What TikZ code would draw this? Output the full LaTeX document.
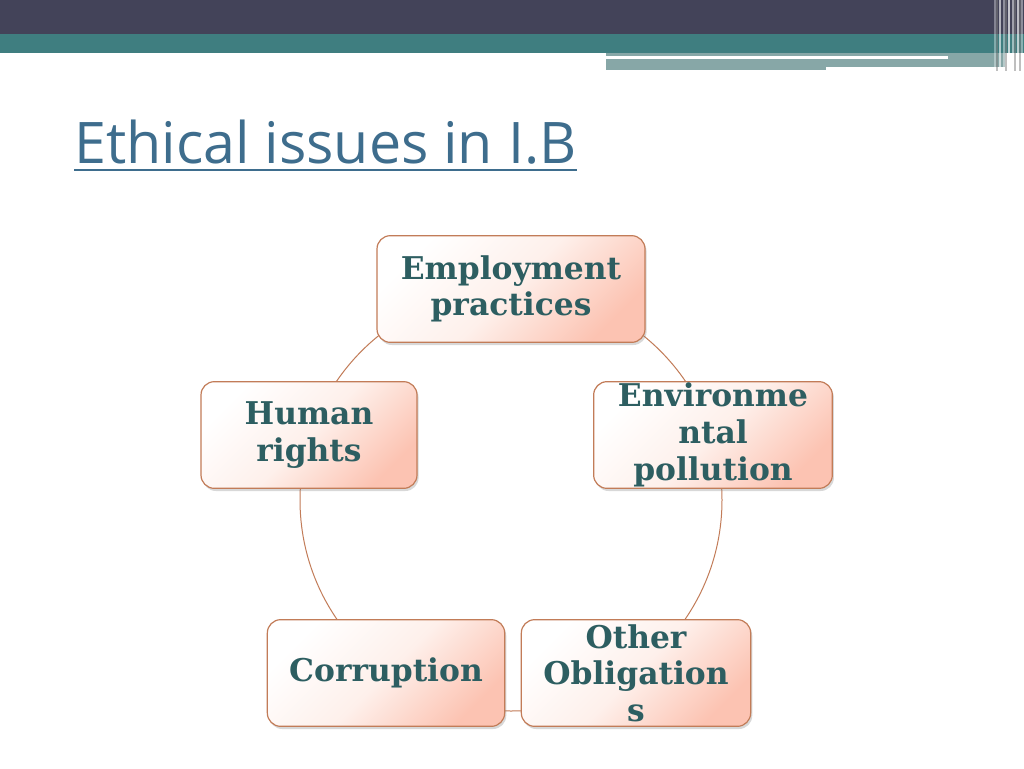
\documentclass[tikz,border=0pt]{standalone}
\usepackage{fontspec}
\setmainfont{DejaVu Serif}
\newfontfamily\titlefont{Open Sans}
\usetikzlibrary{shadows}
\definecolor{bardark}{HTML}{434359}
\definecolor{barteal}{HTML}{3F7E80}
\definecolor{bargray}{HTML}{87A7A7}
\definecolor{titleblue}{HTML}{3E6D8D}
\definecolor{boxedge}{HTML}{C27C58}
\definecolor{boxsalmon}{HTML}{FCC3B2}
\definecolor{boxpale}{HTML}{FEF0EB}
\definecolor{textteal}{HTML}{2D5E61}
\tikzset{
  issue/.style={draw=boxedge, line width=0.9pt, rounded corners=10pt,
    top color=boxsalmon, bottom color=white, middle color=boxpale, shading angle=-135,
    drop shadow={shadow xshift=1.2pt, shadow yshift=-2pt, opacity=0.3},
    align=center, text=textteal, font=\bfseries\fontsize{23.5}{27.5}\selectfont,
    inner sep=0pt},
  ring/.style={draw=boxedge, line width=0.75pt}
}
\begin{document}
\begin{tikzpicture}[x=0.75pt,y=-0.75pt]
\useasboundingbox (0,0) rectangle (1024,768);
\fill[white] (0,0) rectangle (1024,768);
% header
\fill[bargray] (606,50) rectangle (1005,70);
\fill[barteal] (0,34) rectangle (1024,53);
\fill[barteal] (0,34) rectangle (606,49);
\fill[bardark] (0,0) rectangle (1024,34);
\fill[white] (606,56) rectangle (948,58.5);
\fill[white] (826,67) rectangle (1005,69.5);
\foreach \xx/\op in {994/0.35,999/0.6,1003/0.4,1008/0.7,1012/0.5,1017/0.65,1021/0.4}
  \fill[white, opacity=\op] (\xx,0) rectangle ++(2,71);
\foreach \xx in {996,1005,1014,1019}
  \fill[gray, opacity=0.5] (\xx,0) rectangle ++(1.5,71);
% title
\node[anchor=base west, inner sep=0pt, text=titleblue, font=\titlefont\fontsize{43}{47}\selectfont]
  (title) at (74,163) {Ethical issues in I.B};
\draw[titleblue, line width=1.6pt] (title.west |- 0,170) -- (title.east |- 0,170);
% ring
\coordinate (ctr) at (511,500);
\draw[ring] (ctr) circle[radius=211];
% boxes
\node[issue, minimum width=201pt, minimum height=80pt] (emp) at (511,289) {Employment\\practices};
\node[issue, minimum width=162pt, minimum height=80pt] (hum) at (309,435) {Human\\rights};
\node[issue, minimum width=179pt, minimum height=80pt] (env) at (713,435) {Environme\\ntal\\pollution};
\node[issue, minimum width=178pt, minimum height=80pt] (cor) at (386,673) {Corruption};
\node[issue, minimum width=172pt, minimum height=80pt] (oth) at (636,673) {Other\\Obligation\\s};
\end{tikzpicture}
\end{document}
